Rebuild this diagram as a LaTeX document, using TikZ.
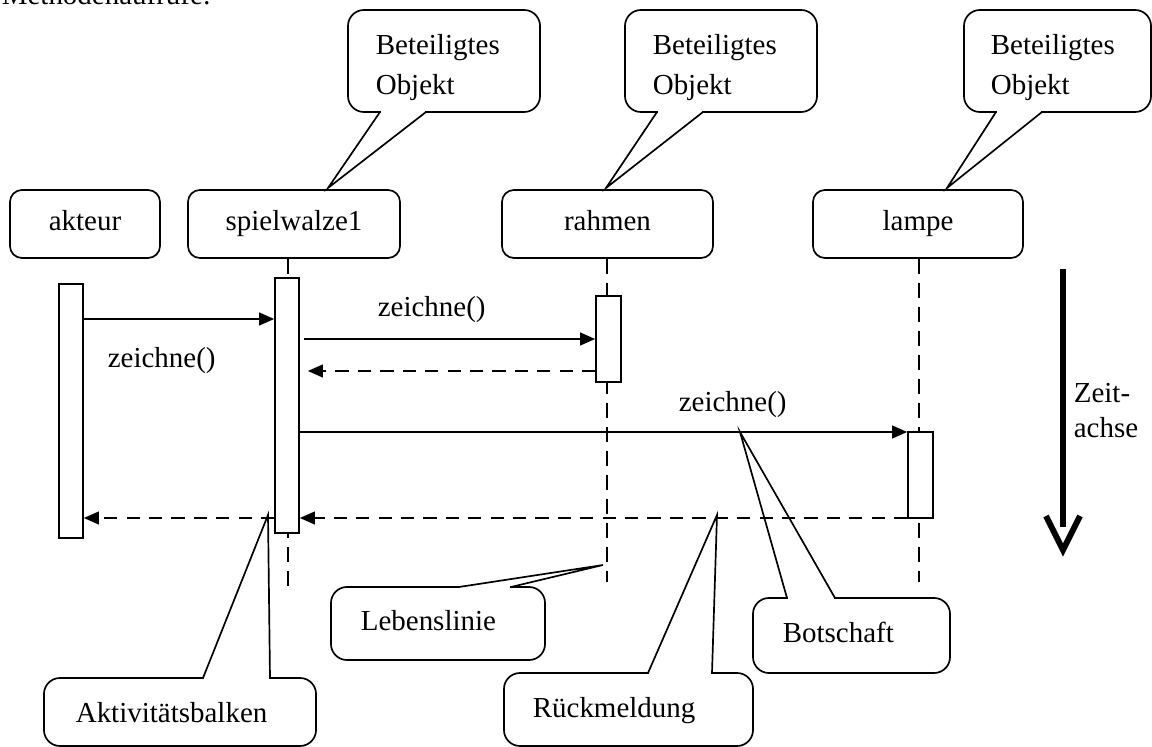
\documentclass[tikz,border=0pt]{standalone}
\usepackage{fontspec}
\setmainfont{Liberation Serif}
\usetikzlibrary{arrows.meta}

\tikzset{
  objbox/.style={draw, rounded corners=0.3cm, minimum height=1.7cm,
    text height=0.5cm, text depth=0.15cm},
  bar/.style={draw, fill=white, minimum width=0.6cm, inner sep=0pt},
  lifeline/.style={dash pattern=on 0.375cm off 0.225cm},
  call/.style={-{Triangle[length=0.375cm,width=0.32cm]}},
  reply/.style={call, dash pattern=on 0.33cm off 0.23cm},
  callbox/.style={draw, rounded corners=0.4cm, inner sep=0pt},
  zeit/.style={line width=0.15cm},
}

\begin{document}
\begin{tikzpicture}[x=0.025cm, y=-0.025cm, line width=1.2pt,
    font=\fontsize{20.6pt}{28.45pt}\selectfont]
  \useasboundingbox (0,0) rectangle (1152,747);

  \node[anchor=base west, inner sep=0pt] (title) at (1,5) {Methodenaufrufe:};

  % objects
  \begin{scope}[every node/.style={objbox}]
    \node[minimum width=3.75cm]  (akteur) at (85,224)    {akteur};
    \node[minimum width=5.3cm]   (walze)  at (294,224)   {spielwalze1};
    \node[minimum width=5.275cm] (rahmen) at (607.5,224) {rahmen};
    \node[minimum width=5.25cm]  (lampe)  at (918,224)   {lampe};
  \end{scope}

  % lifelines
  \coordinate (walzeEnd)  at (288,592);
  \coordinate (rahmenEnd) at (607,582);
  \coordinate (lampeEnd)  at (919,582);
  \draw[lifeline] (walze.south -| walzeEnd) -- (walzeEnd);
  \draw[lifeline] (rahmen.south -| rahmenEnd) -- (rahmenEnd);
  \draw[lifeline] (lampe.south -| lampeEnd) -- (lampeEnd);

  % activation bars
  \begin{scope}[every node/.style={bar}]
    \node[minimum height=6.35cm]  (akteurBar) at (71,411)    {};
    \node[minimum height=6.375cm] (walzeBar)  at (287,405.5) {};
    \node[minimum height=2.15cm, minimum width=0.625cm] (rahmenBar) at (608.5,339) {};
    \node[minimum height=2.15cm, minimum width=0.625cm] (lampeBar)  at (920.5,475) {};
  \end{scope}

  % messages
  \coordinate (m1) at (0,319);
  \coordinate (m2) at (0,339);
  \coordinate (m3) at (0,371);
  \coordinate (m4) at (0,432);
  \coordinate (m5) at (0,518);

  \path (akteurBar.east |- m1) edge[call] (walzeBar.west |- m1);
  \path (walzeBar.east |- m2)  edge[call, shorten <=0.1cm] (rahmenBar.west |- m2);
  \path (rahmenBar.west |- m3) edge[reply, shorten >=0.2cm] (walzeBar.east |- m3);
  \path (walzeBar.east |- m4)  edge[call] (lampeBar.west |- m4);
  \path (lampeBar.west |- m5)  edge[reply] (walzeBar.east |- m5);
  \path (walzeBar.west |- m5)  edge[reply] (akteurBar.east |- m5);

  \begin{scope}[every node/.style={anchor=base west, inner sep=0pt}]
    \node (msg1) at (107,368) {zeichne()};
    \node (msg2) at (377,317) {zeichne()};
    \node (msg3) at (678,412) {zeichne()};
  \end{scope}

  % time axis
  \coordinate (zeitTop) at (1063,269);
  \coordinate (zeitEnd) at (1063,527);
  \coordinate (zeitTip) at (1063,550);
  \draw[zeit] (zeitTop) -- (zeitEnd);
  \draw[zeit, line join=miter] (1046,516) -- (zeitTip) -- (1080,516);
  \node[anchor=west, align=left, inner sep=0pt,
    font=\fontsize{20.6pt}{24.9pt}\selectfont] (zeitLabel) at (1073,411) {Zeit-\\achse};

  % callouts
  \node[callbox, minimum width=4.8cm,   minimum height=2.55cm] (c1box) at (444,61)    {};
  \node[callbox, minimum width=4.8cm,   minimum height=2.55cm] (c2box) at (721,61)    {};
  \node[callbox, minimum width=4.675cm, minimum height=2.55cm] (c3box) at (1057.5,61) {};
  \node[callbox, minimum width=5.35cm,  minimum height=1.825cm] (lebenBox)  at (438,623.5) {};
  \node[callbox, minimum width=6.8cm,   minimum height=1.7cm]   (aktivBox)  at (180,712)   {};
  \node[callbox, minimum width=6.225cm, minimum height=1.825cm] (rueckBox)  at (628.5,709.5) {};
  \node[callbox, minimum width=4.925cm, minimum height=1.875cm] (botBox)    at (851.5,635.5) {};

  \draw[white, line width=2.2pt] (381,112) -- (425,112);
  \draw (380,112) -- (328,188) -- (426,112);
  \draw[white, line width=2.2pt] (658,112) -- (702,112);
  \draw (657,112) -- (606,188) -- (703,112);
  \draw[white, line width=2.2pt] (997,112) -- (1041,112);
  \draw (996,112) -- (947,188) -- (1042,112);

  \draw[white, line width=2.2pt] (460,587) -- (510,587);
  \draw (459,587) -- (603,565) -- (511,587);
  \draw[white, line width=2.2pt] (204,678) -- (269,678);
  \draw (203,678) -- (268,515) -- (270,678);
  \draw[white, line width=2.2pt] (649,673) -- (711,673);
  \draw (648,673) -- (717,515) -- (712,673);
  \draw[white, line width=2.2pt] (788,598) -- (834,598);
  \draw (787,598) -- (740,432) -- (835,598);

  \begin{scope}[every node/.style={anchor=west, align=left, inner sep=0pt}]
    \node (c1) at (375,68)  {Beteiligtes\\Objekt};
    \node (c2) at (652,68)  {Beteiligtes\\Objekt};
    \node (c3) at (990,68)  {Beteiligtes\\Objekt};
  \end{scope}
  \begin{scope}[every node/.style={anchor=base west, inner sep=0pt}]
    \node (leben) at (360,630) {Lebenslinie};
    \node (aktiv) at (75,722)  {Aktivitätsbalken};
    \node (rueck) at (532,717) {Rückmeldung};
    \node (bot)   at (782,642) {Botschaft};
  \end{scope}

\end{tikzpicture}
\end{document}
